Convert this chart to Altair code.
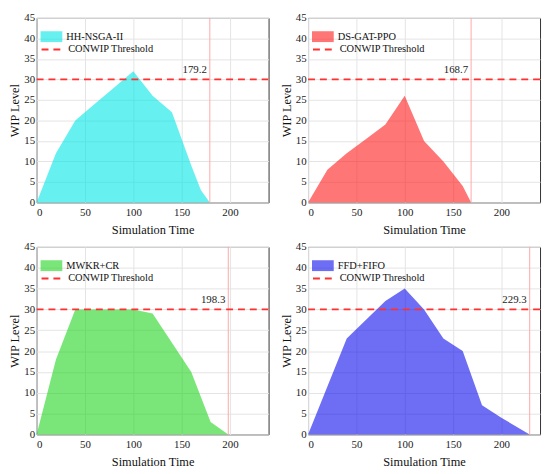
import altair as alt
import pandas as pd

names = ["HH-NSGA-II", "DS-GAT-PPO", "MWKR+CR", "FFD+FIFO"]
colors = ["#00e6e6", "#ff1a1a", "#22d522", "#0d0dee"]
makespans = [179.2, 168.7, 198.3, 229.3]
threshold = 30

p1_x = [0, 20, 40, 60, 80, 100, 120, 140, 160, 170, 179.2]
p1_y = [0, 12, 20, 24, 28, 32, 26, 22, 9, 3, 0]
p2_x = [0, 20, 40, 60, 80, 100, 120, 140, 160, 168.7]
p2_y = [0, 8, 12, 15.5, 19, 26, 15, 10, 4, 0]
p3_x = [0, 20, 40, 60, 80, 100, 120, 140, 160, 180, 198.3]
p3_y = [0, 18, 30, 30, 30, 30, 29, 22, 15, 3, 0]
p4_x = [0, 20, 40, 60, 80, 100, 120, 140, 160, 180, 200, 229.3]
p4_y = [0, 11.5, 23, 27.5, 32, 35, 30, 23, 20, 7, 4, 0]

x_ticks = [0, 50, 100, 150, 200]
y_ticks = [0, 5, 10, 15, 20, 25, 30, 35, 40, 45]

FONT = "'Liberation Serif', 'Times New Roman', Times, serif"
W = 235
LS, TS, GS = 11, 12.5, 10.5


def axis(title, values, lpad, tpad):
    return alt.Axis(values=values, title=title, labelOverlap=False, ticks=False, domain=False,
                    labelFont=FONT, labelFontSize=LS, labelColor="#222", labelPadding=lpad,
                    titleFont=FONT, titleFontSize=TS, titleFontWeight="normal",
                    titleColor="#111", titlePadding=tpad, gridColor="#e4e4e4")


def panel(name, xs, ys, end, color, h):
    df = pd.DataFrame({"t": xs, "wip": ys, "series": name})
    thr = pd.DataFrame({"thr": [threshold], "label": ["CONWIP Threshold"]})
    endf = pd.DataFrame({"end": [end], "ypos": [32.3], "txt": [f"{end}"]})
    xs_ = alt.Scale(domain=[0, 240], nice=False, zero=False)
    ys_ = alt.Scale(domain=[0, 45], nice=False)
    xax = axis("Simulation Time", x_ticks, 4, 6)
    yax = axis("WIP Level", y_ticks, 2, 2)
    area = alt.Chart(df).mark_area(opacity=0.6).encode(
        x=alt.X("t:Q", scale=xs_, axis=xax),
        y=alt.Y("wip:Q", scale=ys_, axis=yax),
        fill=alt.Fill("series:N", scale=alt.Scale(domain=[name], range=[color]),
                      legend=alt.Legend(title=None, orient="none", legendX=4, legendY=8, padding=0,
                                        symbolType="M-1,-0.5L1,-0.5L1,0.5L-1,0.5Z",
                                        symbolSize=484, symbolOpacity=0.6, symbolStrokeWidth=0,
                                        labelFont=FONT, labelFontSize=GS, labelOffset=4,
                                        labelColor="#111")),
    )
    vline = alt.Chart(endf).mark_rule(color="#ffa8a8", strokeWidth=1).encode(
        x=alt.X("end:Q", scale=xs_, axis=xax))
    hline = alt.Chart(thr).mark_rule(color="#ff3030", strokeWidth=1.8).encode(
        y=alt.Y("thr:Q", scale=ys_, axis=yax),
        strokeDash=alt.StrokeDash("label:N", scale=alt.Scale(domain=["CONWIP Threshold"], range=[[7, 5]]),
                                  legend=alt.Legend(title=None, orient="none", legendX=4, legendY=20,
                                                    padding=0, symbolType="stroke", symbolSize=484,
                                                    symbolStrokeColor="#ff3030", symbolStrokeWidth=2,
                                                    labelFont=FONT, labelFontSize=GS, labelOffset=4,
                                                    labelColor="#111")),
    )
    txt = alt.Chart(endf).mark_text(align="right", baseline="middle", dx=-3, font=FONT,
                                    fontSize=11, color="#222").encode(
        x=alt.X("end:Q", scale=xs_, axis=xax), y=alt.Y("ypos:Q", scale=ys_, axis=yax), text="txt:N")
    return alt.layer(area, vline, hline, txt).properties(width=W, height=h)


c1 = panel(names[0], p1_x, p1_y, makespans[0], colors[0], 187)
c2 = panel(names[1], p2_x, p2_y, makespans[1], colors[1], 187)
c3 = panel(names[2], p3_x, p3_y, makespans[2], colors[2], 190)
c4 = panel(names[3], p4_x, p4_y, makespans[3], colors[3], 190)


def row(a, b):
    return alt.hconcat(a, b, spacing=9).resolve_scale(
        fill="independent", strokeDash="independent"
    ).resolve_legend(fill="independent", strokeDash="independent")


chart = alt.vconcat(row(c1, c2), row(c3, c4), spacing=4).resolve_scale(
    fill="independent", strokeDash="independent"
).resolve_legend(fill="independent", strokeDash="independent").properties(
    padding={"left": 0, "top": 0, "right": 0, "bottom": 0}
).configure_view(stroke="#333", strokeWidth=1).configure_axis(
    labelFont=FONT, titleFont=FONT, labelFontSize=LS, titleFontSize=TS, titleFontWeight="normal"
).configure_legend(labelFont=FONT, labelFontSize=GS).configure_text(font=FONT)

chart.save("out.html", embed_options={"renderer": "svg", "actions": False})
